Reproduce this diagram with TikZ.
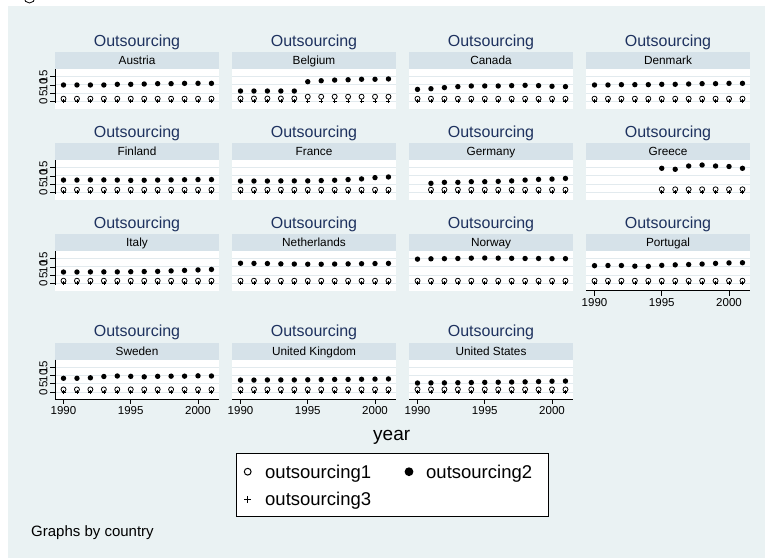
\documentclass[tikz,border=0pt]{standalone}
\usepackage{fontspec}
\setmainfont{Liberation Sans}
\definecolor{bgc}{RGB}{234,242,243}
\definecolor{stripc}{RGB}{214,226,233}
\definecolor{gridc}{RGB}{226,234,238}
\definecolor{titlec}{RGB}{30,50,95}
\tikzset{
  titletext/.style={font=\fontsize{16}{18}\selectfont, text=titlec, anchor=base, inner sep=0pt},
  striptext/.style={font=\fontsize{11.8}{13}\selectfont, anchor=base, inner sep=0pt},
  ticktext/.style={font=\fontsize{11.5}{13}\selectfont, anchor=base, inner sep=0pt},
  dotmk/.style={fill=black},
  hollowmk/.style={draw=black, line width=0.8pt},
  plusmk/.style={draw=black, line width=0.7pt},
  axisline/.style={draw=black, line width=0.8pt},
}
% panel frame: #1 id, #2 x0, #3 strip top, #4 country
\newcommand\drawpanel[4]{%
  \fill[stripc] (#2,#3) rectangle ++(164,17);
  \fill[white] (#2,#3+17) rectangle ++(164,39.5);
  \foreach \v in {0,5,10,15}{\draw[gridc,line width=1pt] (#2,{#3+49.3-1.633*\v}) -- ++(164,0);}
  \node[titletext] (t#1) at (#2+82,#3-6) {Outsourcing};
  \node[striptext] (s#1) at (#2+82,#3+12.3) {#4};
}
% filled dots: #1 x0, #2 top, #3 list yr/val
\newcommand\dotsdata[3]{%
  \edef\mylist{#3}%
  \foreach \yr/\v in \mylist {\fill[dotmk] ({#1+8.5+13.45*(\yr-1990)},{#2+49.3-1.633*\v}) circle (2.7);}
}
% hollow + plus: #1 x0, #2 top, #3 list yr/offset(px)
\newcommand\hollowdata[3]{%
  \edef\mylist{#3}%
  \foreach \yr/\off in \mylist {%
    \pgfmathsetmacro\xx{#1+8.5+13.45*(\yr-1990)}
    \pgfmathsetmacro\yy{#2+49.3}
    \draw[plusmk] (\xx-2,\yy) -- (\xx+2,\yy) (\xx,\yy-2) -- (\xx,\yy+2);
    \draw[hollowmk] (\xx,\yy-\off) circle (2.5);
  }
}
% y axis: #1 top, #2 bottom (absolute)
\newcommand\yaxis[2]{%
  \draw[axisline] (55,#1+17) -- (55,#2);
  \foreach \v in {0,5,10,15}{%
    \draw[axisline] (50,{#1+49.3-1.633*\v}) -- (55,{#1+49.3-1.633*\v});
    \node[font=\fontsize{11.5}{13}\selectfont, rotate=90, inner sep=0pt] at (43.5,{#1+49.3-1.633*\v}) {\v};
  }
}
% x axis: #1 x0, #2 top
\newcommand\xaxis[2]{%
  \draw[axisline] (#1,#2+56.5) -- ++(164,0);
  \foreach \yr in {1990,1995,2000}{%
    \draw[axisline] ({#1+8.5+13.45*(\yr-1990)},#2+56.5) -- ++(0,5);
    \node[ticktext] at ({#1+8.5+13.45*(\yr-1990)},#2+72) {\yr};
  }
}
\begin{document}
\begin{tikzpicture}[x=1pt,y=-1pt]
\useasboundingbox (0,0) rectangle (765,558);
\clip (0,0) rectangle (765,558);
\fill[white] (0,0) rectangle (765,558);
\fill[bgc] (8,6) rectangle (765,558);
\draw[line width=0.8pt] (29.5,-2.5) circle (5.5);

% row 1
\drawpanel{at}{55}{52}{Austria}
\drawpanel{be}{232}{52}{Belgium}
\drawpanel{ca}{409}{52}{Canada}
\drawpanel{dk}{586}{52}{Denmark}
% row 2
\drawpanel{fi}{55}{143}{Finland}
\drawpanel{fr}{232}{143}{France}
\drawpanel{de}{409}{143}{Germany}
\drawpanel{gr}{586}{143}{Greece}
% row 3
\drawpanel{it}{55}{234}{Italy}
\drawpanel{nl}{232}{234}{Netherlands}
\drawpanel{no}{409}{234}{Norway}
\drawpanel{pt}{586}{234}{Portugal}
% row 4
\drawpanel{se}{55}{342.7}{Sweden}
\drawpanel{uk}{232}{342.7}{United Kingdom}
\drawpanel{us}{409}{342.7}{United States}

% axes
\yaxis{52}{102.8}
\yaxis{143}{193.8}
\yaxis{234}{284.8}
\yaxis{342.7}{399.2}
\xaxis{586}{234}
\xaxis{55}{342.7}
\xaxis{232}{342.7}
\xaxis{409}{342.7}

% hollow markers
\def\allyrs{1990/2.6,1991/2.6,1992/2.6,1993/2.6,1994/2.6,1995/2.6,1996/2.6,1997/2.6,1998/2.6,1999/2.6,2000/2.6,2001/2.6}
\hollowdata{55}{52}{\allyrs}
\hollowdata{232}{52}{1990/2.8,1991/2.8,1992/2.8,1993/2.8,1994/2.8,1995/4.6,1996/4.6,1997/4.6,1998/4.6,1999/4.6,2000/4.6,2001/4.6}
\hollowdata{409}{52}{\allyrs}
\hollowdata{586}{52}{\allyrs}
\hollowdata{55}{143}{\allyrs}
\hollowdata{232}{143}{\allyrs}
\hollowdata{409}{143}{1991/2.6,1992/2.6,1993/2.6,1994/2.6,1995/2.6,1996/2.6,1997/2.6,1998/2.6,1999/2.6,2000/2.6,2001/2.6}
\hollowdata{586}{143}{1995/3,1996/3,1997/3,1998/3,1999/3,2000/3,2001/3}
\hollowdata{55}{234}{\allyrs}
\hollowdata{232}{234}{\allyrs}
\hollowdata{409}{234}{\allyrs}
\hollowdata{586}{234}{\allyrs}
\hollowdata{55}{342.7}{\allyrs}
\hollowdata{232}{342.7}{\allyrs}
\hollowdata{409}{342.7}{\allyrs}

% filled dots
\dotsdata{55}{52}{1990/10,1991/10,1992/10,1993/10,1994/10.4,1995/10.4,1996/10.6,1997/10.8,1998/10.8,1999/11,2000/11,2001/11}
\dotsdata{232}{52}{1990/6.3,1991/6.3,1992/6.3,1993/6.3,1994/6.3,1995/12,1996/12.6,1997/13,1998/13.2,1999/13.5,2000/13.5,2001/13.7}
\dotsdata{409}{52}{1990/7.3,1991/7.7,1992/8.4,1993/9,1994/9.4,1995/9.4,1996/9.4,1997/9.6,1998/9.8,1999/9.6,2000/9.2,2001/9}
\dotsdata{586}{52}{1990/10,1991/10,1992/10.2,1993/10.2,1994/10.2,1995/10.4,1996/10.4,1997/10.6,1998/10.8,1999/10.8,2000/11,2001/11}
\dotsdata{55}{143}{1990/7.5,1991/7.5,1992/7.6,1993/7.6,1994/7.5,1995/7.3,1996/7.4,1997/7.5,1998/7.6,1999/7.7,2000/7.8,2001/7.8}
\dotsdata{232}{143}{1990/6.9,1991/6.9,1992/6.9,1993/7,1994/7,1995/7,1996/7.2,1997/7.4,1998/7.8,1999/8.2,2000/9,2001/9.4}
\dotsdata{409}{143}{1991/5.5,1992/6.1,1993/6.1,1994/6.5,1995/6.5,1996/6.7,1997/7,1998/7.5,1999/7.9,2000/8.1,2001/8.5}
\dotsdata{586}{143}{1995/14.7,1996/14.1,1997/16.1,1998/16.7,1999/16.1,2000/15.8,2001/14.7}
\dotsdata{55}{234}{1990/6.9,1991/6.9,1992/7,1993/7,1994/7,1995/7.1,1996/7.2,1997/7.3,1998/7.6,1999/7.9,2000/8.2,2001/8.5}
\dotsdata{232}{234}{1990/12.3,1991/12.2,1992/12.1,1993/11.9,1994/11.8,1995/11.7,1996/11.7,1997/11.8,1998/11.9,1999/12,2000/12.1,2001/12.2}
\dotsdata{409}{234}{1990/14.8,1991/15,1992/15.1,1993/15.2,1994/15.4,1995/15.5,1996/15.4,1997/15.3,1998/15.2,1999/15.2,2000/15.1,2001/15.1}
\dotsdata{586}{234}{1990/10.8,1991/10.9,1992/10.9,1993/10.5,1994/10.4,1995/11,1996/11.3,1997/11.5,1998/11.8,1999/12.2,2000/12.5,2001/12.6}
\dotsdata{55}{342.7}{1990/8.4,1991/8.4,1992/8.7,1993/9.5,1994/9.8,1995/9.6,1996/9.3,1997/9.6,1998/9.7,1999/9.7,2000/9.9,2001/9.8}
\dotsdata{232}{342.7}{1990/7.3,1991/7.3,1992/7.4,1993/7.4,1994/7.4,1995/7.5,1996/7.6,1997/7.7,1998/7.7,1999/7.8,2000/7.9,2001/8}
\dotsdata{409}{342.7}{1990/5.5,1991/5.6,1992/5.6,1993/5.7,1994/5.8,1995/5.9,1996/6,1997/6.1,1998/6.2,1999/6.4,2000/6.6,2001/6.7}

% x title
\node[font=\fontsize{19}{22}\selectfont, anchor=base, inner sep=0pt] (xt) at (391.7,440) {year};

% legend
\node[draw=black, line width=0.9pt, fill=white, minimum width=312pt, minimum height=63pt, anchor=north west, inner sep=0pt] (leg) at (235.7,452.7) {};
\draw[line width=1pt] (247.7,471.7) circle (3.4);
\node[font=\fontsize{18.5}{22}\selectfont, anchor=base west, inner sep=0pt] (l1) at (265,478.7) {outsourcing1};
\fill (409,471.7) circle (4.4);
\node[font=\fontsize{18.5}{22}\selectfont, anchor=base west, inner sep=0pt] (l2) at (426,478.7) {outsourcing2};
\draw[line width=1pt] (244.2,499.3) -- (251.2,499.3) (247.7,495.8) -- (247.7,502.8);
\node[font=\fontsize{18.5}{22}\selectfont, anchor=base west, inner sep=0pt] (l3) at (265,505.3) {outsourcing3};

% note
\node[font=\fontsize{15}{18}\selectfont, anchor=base west, inner sep=0pt] (note) at (31,536.7) {Graphs by country};
\end{tikzpicture}
\end{document}
